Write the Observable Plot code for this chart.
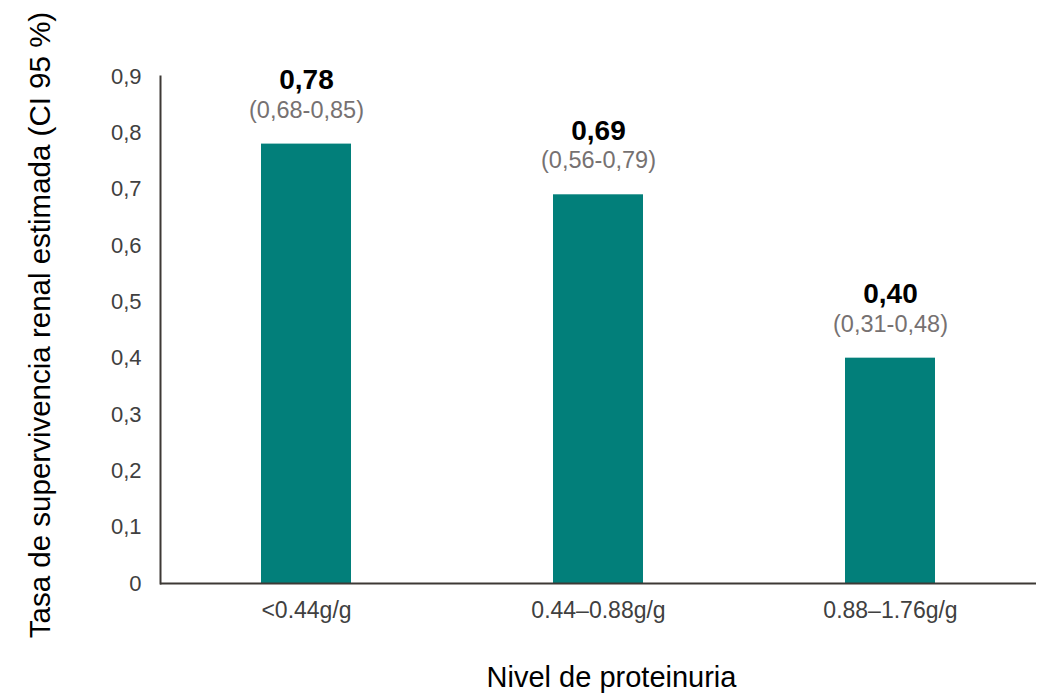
<!DOCTYPE html>
<html>
<head>
<meta charset="utf-8">
<script src="https://cdn.jsdelivr.net/npm/d3@7"></script>
<script src="https://cdn.jsdelivr.net/npm/@observablehq/plot@0.6"></script>
<style>
  html, body { margin: 0; padding: 0; background: #fff; }
  #chart svg { display: block; }
</style>
</head>
<body>
<div id="chart"></div>
<script>
const categories = ["<0.44g/g", "0.44–0.88g/g", "0.88–1.76g/g"];
const values = [0.78, 0.69, 0.40];
const valueLabels = ["0,78", "0,69", "0,40"];
const ciLabels = ["(0,68-0,85)", "(0,56-0,79)", "(0,31-0,48)"];
const yTicks = [0, 0.1, 0.2, 0.3, 0.4, 0.5, 0.6, 0.7, 0.8, 0.9];
const yTitle = "Tasa de supervivencia renal estimada (CI 95 %)";
const xTitle = "Nivel de proteinuria";

const data = categories.map((c, i) => ({cat: c, v: values[i], lab: valueLabels[i], ci: ciLabels[i]}));
const fmt = d => d === 0 ? "0" : d.toFixed(1).replace(".", ",");
const font = "Liberation Sans, Arial, sans-serif";

const chart = Plot.plot({
  width: 1041,
  height: 694,
  marginLeft: 160,
  marginRight: 5,
  marginTop: 76,
  marginBottom: 111,
  style: {fontFamily: font, background: "#fff"},
  x: {domain: categories, paddingInner: 0.692, paddingOuter: 0.346, axis: null},
  y: {domain: [0, 0.9], axis: null},
  marks: [
    Plot.barY(data, {x: "cat", y: "v", fill: "#027f7a"}),
    Plot.frame({anchor: "left", stroke: "#3d3935", strokeWidth: 2}),
    Plot.ruleY([0], {stroke: "#3d3935", strokeWidth: 2}),
    Plot.axisY(yTicks, {tickSize: 0, tickPadding: 19, tickFormat: fmt, fontSize: 22, fill: "#404040", label: null}),
    Plot.axisX({tickSize: 0, tickPadding: 18, fontSize: 23, fill: "#404040", label: null}),
    Plot.text(data, {x: "cat", y: "v", text: "lab", dy: -64, fontSize: 28, fontWeight: "bold", fill: "#000"}),
    Plot.text(data, {x: "cat", y: "v", text: "ci", dy: -34, fontSize: 23.5, fill: "#767171"}),
    Plot.text([xTitle], {frameAnchor: "bottom", lineAnchor: "middle", dy: 94, dx: 13, fontSize: 29, fill: "#000"}),
    Plot.text([yTitle], {frameAnchor: "left", textAnchor: "middle", lineAnchor: "middle", rotate: -90, dx: -120, dy: -5, fontSize: 29.5, fill: "#000"})
  ]
});
document.getElementById("chart").appendChild(chart);
</script>
</body>
</html>
